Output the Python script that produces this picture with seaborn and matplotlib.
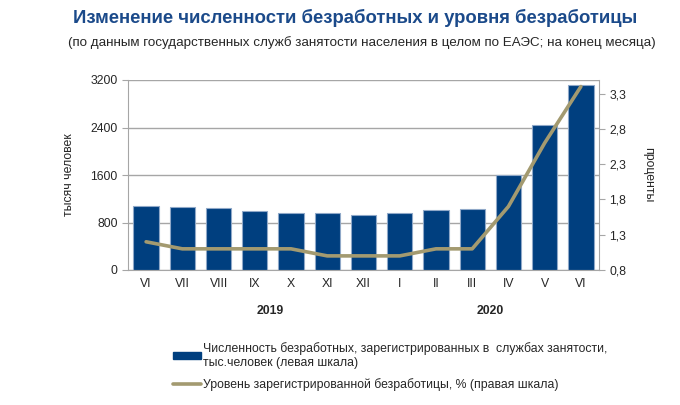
import numpy as np
import pandas as pd
import seaborn as sns
import matplotlib.pyplot as plt
from matplotlib.patches import Patch
from matplotlib.lines import Line2D
from matplotlib.ticker import FuncFormatter, FixedLocator

# Data
months = ["VI", "VII", "VIII", "IX", "X", "XI", "XII", "I", "II", "III", "IV", "V", "VI"]
years = ["2019"] * 7 + ["2020"] * 6
unemployed = [1078, 1056, 1039, 988, 960, 966, 932, 955, 1010, 1022, 1600, 2448, 3116]
rate = [1.2, 1.1, 1.1, 1.1, 1.1, 1.0, 1.0, 1.0, 1.1, 1.1, 1.7, 2.6, 3.4]

df = pd.DataFrame({
    "period": [f"{m}.{y}" for m, y in zip(months, years)],
    "unemployed": unemployed,
    "rate": rate,
})
df["pos"] = np.arange(len(df))

bar_color = "#003F7F"
line_color = "#A39A70"
grid_color = "#A6A6A6"
fs = 8.8

sns.set_style("white")
plt.rcParams["font.family"] = ["Liberation Sans", "DejaVu Sans"]

fig = plt.figure(figsize=(6.8, 4.05), dpi=100)
ax = fig.add_axes([128 / 680, 1 - 270 / 405, 471 / 680, 190 / 405])

sns.barplot(data=df, x="period", y="unemployed", color=bar_color, saturation=1,
            width=0.7, edgecolor="#8FA8C8", linewidth=0.8, ax=ax, zorder=2)
ax.set_ylim(0, 3200)
ax.set_xlim(-0.5, len(df) - 0.5)
ax.set_yticks([0, 800, 1600, 2400, 3200])
ax.yaxis.grid(True, color=grid_color, linewidth=1)
ax.set_axisbelow(True)
ax.set_xticks(df["pos"])
ax.set_xticklabels(months)
ax.xaxis.set_minor_locator(FixedLocator(np.arange(-0.5, len(df), 1)))
ax.tick_params(axis="x", which="major", length=0, pad=6, labelsize=fs)
ax.tick_params(axis="x", which="minor", length=4, color=grid_color, direction="out")
ax.tick_params(axis="y", length=4, color=grid_color, direction="out", labelsize=fs, left=True)
ax.set_xlabel("")
ax.set_ylabel("тысяч человек", fontsize=fs, labelpad=11)
for s in ["left", "bottom", "right"]:
    ax.spines[s].set_color(grid_color)
ax.spines["top"].set_visible(False)

ax2 = ax.twinx()
sns.lineplot(data=df, x="pos", y="rate", color=line_color, linewidth=2.6, ax=ax2)
ax2.set_ylim(0.8, 3.493)
ax2.set_yticks([0.8, 1.3, 1.8, 2.3, 2.8, 3.3])
ax2.yaxis.set_major_formatter(FuncFormatter(lambda v, p: f"{v:.1f}".replace(".", ",")))
ax2.tick_params(axis="y", length=4, color=grid_color, direction="out", labelsize=fs, right=True)
ax2.set_ylabel("проценты", fontsize=fs, rotation=270, labelpad=20)
ax2.set_xlabel("")
for s in ["left", "bottom", "right", "top"]:
    ax2.spines[s].set_visible(False)

# year labels under the month ticks
trans = ax.get_xaxis_transform()
ax.text(3.42, -0.215, "2019", transform=trans, ha="center", va="center",
        fontsize=fs, fontweight="bold")
ax.text(9.5, -0.215, "2020", transform=trans, ha="center", va="center",
        fontsize=fs, fontweight="bold")

fig.text(355 / 680, 1 - 18 / 405, "Изменение численности безработных и уровня безработицы",
         ha="center", va="center", fontsize=13.3, fontweight="bold", color="#1B4A8A")
fig.text(362 / 680, 1 - 43 / 405,
         "(по данным государственных служб занятости населения в целом по ЕАЭС; на конец месяца)",
         ha="center", va="center", fontsize=9.6)

handles = [
    Patch(facecolor=bar_color, edgecolor=bar_color),
    Line2D([0], [0], color=line_color, linewidth=2.6),
]
labels = [
    "Численность безработных, зарегистрированных в  службах занятости,\nтыс.человек (левая шкала)",
    "Уровень зарегистрированной безработицы, % (правая шкала)",
]
fig.legend(handles, labels, loc="upper left", bbox_to_anchor=(168 / 680, 1 - 337 / 405),
           frameon=False, fontsize=8.8, handlelength=2.3, handleheight=0.5,
           handletextpad=0.15, labelspacing=0.8, borderaxespad=0)

fig.savefig("out.png", dpi=100)
